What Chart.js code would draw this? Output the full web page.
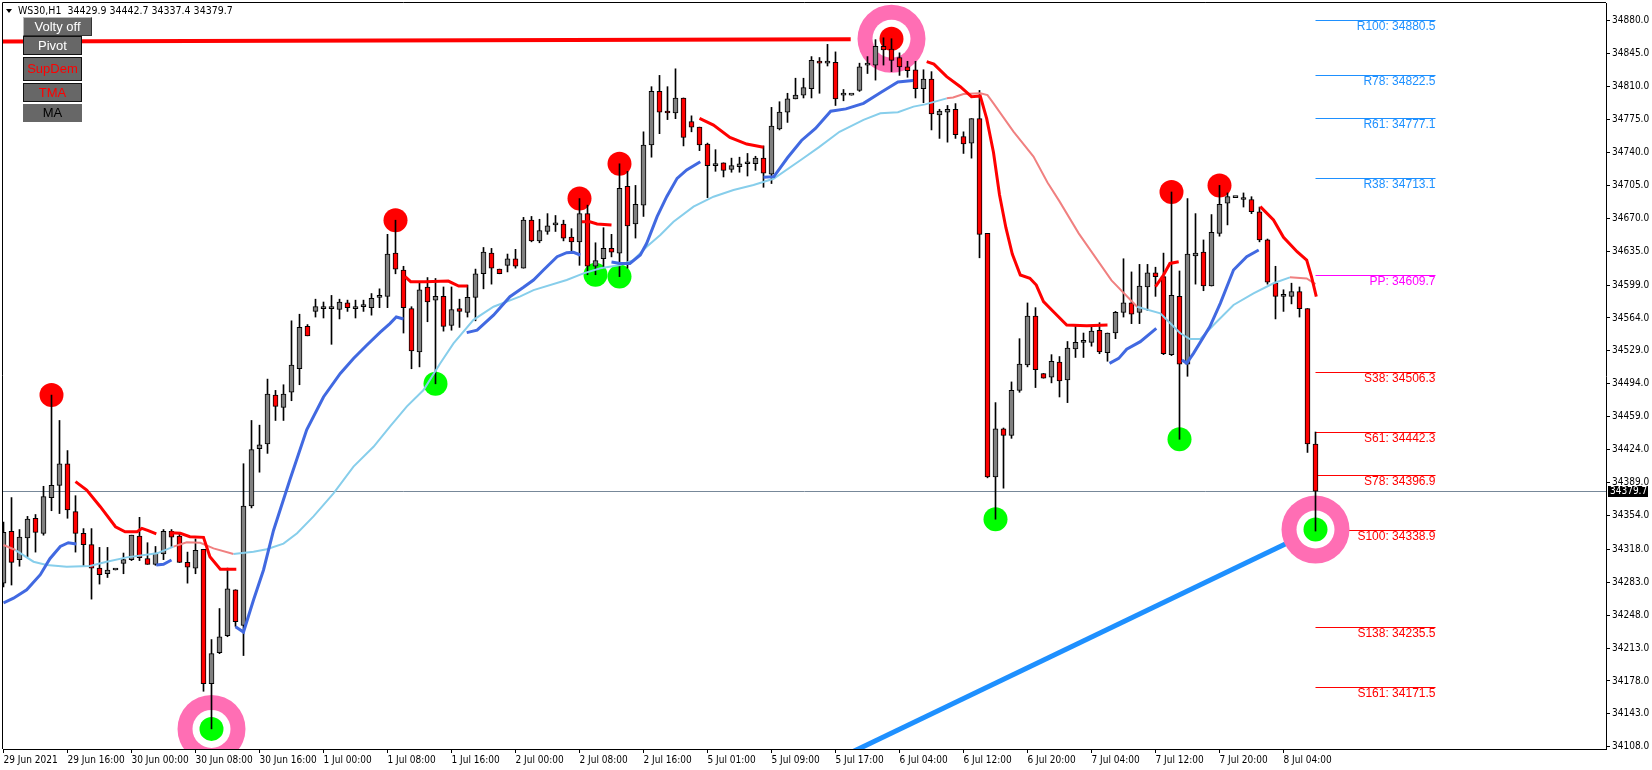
<!DOCTYPE html>
<html>
<head>
<meta charset="utf-8">
<script src="https://cdn.jsdelivr.net/npm/chart.js@4.4.0/dist/chart.umd.min.js"></script>
<style>
  body { margin: 0; background: #fff; }
  #wrap { position: relative; width: 1652px; height: 770px; overflow: hidden; }
  #c { position: absolute; left: 0; top: 0; }
  .title { position: absolute; left: 18px; top: 4px; font: 10.5px "Liberation Sans Narrow", "DejaVu Sans Condensed", sans-serif; color: #000; white-space: pre; }
  .tri { position: absolute; left: 6px; top: 9px; width: 0; height: 0; border-left: 3.5px solid transparent; border-right: 3.5px solid transparent; border-top: 4px solid #000; }
  .btn { position: absolute; left: 23px; width: 59px; box-sizing: border-box; background: #676767; border: 1px solid #111;
         font: 13px "Liberation Sans", Arial, sans-serif; text-align: center; color: #fff; }
</style>
</head>
<body>
<div id="wrap">
  <canvas id="c" width="1652" height="770"></canvas>
  <div class="tri"></div>
  <div class="title">WS30,H1  34429.9 34442.7 34337.4 34379.7</div>
  <div class="btn" style="top:17px;width:69px;height:19px;line-height:17px;border-color:#bbb #333 #333 #bbb;">Volty off</div>
  <div class="btn" style="top:36px;height:19px;line-height:17px;">Pivot</div>
  <div class="btn" style="top:57px;height:24px;line-height:22px;color:#f00;">SupDem</div>
  <div class="btn" style="top:83px;height:19px;line-height:17px;color:#f00;">TMA</div>
  <div class="btn" style="top:104px;height:18px;line-height:18px;border:none;color:#000;">MA</div>
</div>
<script>
// WS30 H1 candles, 29 Jun - 8 Jul 2021
var opens = [34282,34337,34307,34330,34351,34335,34373,34386,34409,34358,
  34335,34323,34298,34292,34296,34303,34307,34332,34308,34302,
  34313,34337,34332,34304,34298,34318,34175,34208,34226,34275,
  34237,34364,34425,34430,34482,34469,34485,34510,34555,34571,
  34574,34574,34573,34580,34574,34576,34575,34586,34587,34633,
  34615,34574,34528,34597,34583,34587,34556,34574,34570,34586,
  34611,34633,34616,34620,34627,34617,34668,34646,34656,34663,
  34664,34650,34645,34675,34619,34627,34638,34633,34704,34664,
  34684,34748,34805,34784,34782,34798,34773,34767,34749,34726,
  34729,34722,34725,34728,34728,34734,34717,34765,34783,34797,
  34801,34808,34837,34835,34836,34801,34801,34806,34833,34833,
  34853,34850,34841,34831,34828,34808,34818,34780,34783,34786,
  34757,34750,34776,34654,34395,34446,34439,34487,34514,34566,
  34505,34501,34517,34498,34531,34538,34538,34551,34527,34548,
  34570,34580,34570,34597,34612,34608,34525,34587,34515,34630,
  34634,34598,34654,34686,34692,34690,34690,34677,34647,34601,
  34587,34587,34592,34574,34429.9];
var highs = [34347,34373,34339,34353,34355,34385,34482,34455,34423,34375,
  34340,34340,34320,34320,34296,34314,34333,34352,34325,34321,
  34339,34339,34336,34315,34329,34318,34222,34255,34298,34275,
  34409,34455,34450,34499,34487,34493,34561,34568,34557,34584,
  34581,34588,34584,34583,34583,34583,34590,34595,34653,34668,
  34619,34576,34601,34607,34606,34597,34597,34584,34599,34616,
  34639,34638,34616,34632,34637,34671,34672,34669,34675,34673,
  34668,34659,34691,34684,34644,34660,34653,34728,34720,34705,
  34762,34810,34822,34810,34829,34798,34779,34767,34750,34743,
  34729,34734,34735,34739,34736,34747,34788,34794,34803,34819,
  34819,34842,34841,34855,34847,34807,34801,34835,34842,34860,
  34862,34861,34846,34837,34837,34828,34826,34786,34790,34792,
  34762,34776,34806,34654,34474,34447,34496,34542,34580,34575,
  34505,34525,34523,34539,34557,34548,34556,34559,34548,34571,
  34627,34613,34621,34621,34618,34633,34698,34614,34691,34675,
  34647,34674,34705,34697,34692,34697,34693,34682,34648,34619,
  34594,34601,34597,34574,34442.7];
var lows = [34278,34280,34300,34310,34315,34333,34359,34356,34351,34315,
  34300,34265,34281,34288,34296,34292,34306,34306,34302,34301,
  34307,34321,34304,34282,34292,34167,34127,34207,34225,34236,
  34205,34362,34400,34420,34455,34455,34476,34493,34545,34565,
  34564,34536,34563,34571,34564,34571,34567,34575,34575,34611,
  34548,34510,34512,34560,34494,34550,34551,34554,34565,34561,
  34595,34600,34611,34613,34617,34617,34645,34644,34653,34656,
  34646,34634,34620,34610,34610,34617,34629,34608,34617,34649,
  34672,34735,34760,34775,34776,34747,34762,34742,34692,34720,
  34714,34719,34719,34715,34721,34703,34707,34764,34772,34797,
  34798,34798,34803,34832,34790,34795,34801,34805,34824,34817,
  34833,34826,34822,34820,34798,34793,34764,34755,34751,34755,
  34739,34734,34628,34394,34350,34383,34436,34485,34512,34490,
  34500,34495,34480,34474,34522,34522,34534,34526,34518,34542,
  34565,34558,34558,34572,34587,34525,34524,34435,34502,34600,
  34593,34598,34651,34663,34692,34682,34675,34645,34600,34563,
  34571,34579,34565,34421,34337.4];
var closes = [34336,34304,34331,34350,34336,34374,34386,34409,34360,34335,
  34323,34298,34291,34296,34296,34307,34333,34309,34302,34314,
  34337,34331,34304,34299,34317,34175,34207,34225,34276,34241,
  34364,34424,34429,34483,34470,34483,34514,34554,34545,34576,
  34574,34574,34581,34575,34576,34576,34585,34586,34632,34616,
  34575,34529,34594,34581,34587,34555,34573,34571,34586,34611,
  34634,34617,34611,34627,34619,34668,34646,34657,34662,34663,
  34649,34645,34675,34619,34625,34638,34634,34702,34662,34685,
  34748,34805,34783,34782,34798,34756,34767,34748,34726,34728,
  34721,34726,34728,34728,34734,34718,34768,34783,34797,34801,
  34809,34838,34835,34835,34797,34801,34801,34831,34833,34853,
  34849,34838,34831,34827,34808,34818,34781,34784,34786,34759,
  34749,34776,34653,34395,34446,34439,34487,34515,34566,34509,
  34500,34518,34497,34532,34538,34538,34550,34528,34548,34570,
  34580,34568,34598,34612,34608,34526,34588,34515,34632,34633,
  34598,34655,34685,34693,34692,34690,34677,34647,34602,34587,
  34587,34592,34574,34430,34379.7];

// time axis: one label every 8 bars
var timeLabels = ['29 Jun 2021','29 Jun 16:00','30 Jun 00:00','30 Jun 08:00','30 Jun 16:00','1 Jul 00:00',
  '1 Jul 08:00','1 Jul 16:00','2 Jul 00:00','2 Jul 08:00','2 Jul 16:00','5 Jul 01:00','5 Jul 09:00',
  '5 Jul 17:00','6 Jul 04:00','6 Jul 12:00','6 Jul 20:00','7 Jul 04:00','7 Jul 12:00','7 Jul 20:00','8 Jul 04:00'];
var priceTicks = [34108,34143,34178,34213,34248,34283,34318,34354,34389,34424,34459,34494,
  34529,34564,34599,34635,34670,34705,34740,34775,34810,34845,34880];

// slow MA (sky blue, light coral where flagged)
var slowI = [0,1.5,3.75,5.4,7.9,10.8,12.9,15.4,19.2,21.25,22.9,24.6,26.25,28.75,31.25,32.9,35,36.7,38.75,41.25,
  43.75,46.25,48.3,50.4,52.5,54.6,56.25,58.75,61.25,64.6,66.25,70.4,72.5,74.6,77.1,78.75,80.4,82.1,83.75,86.25,
  88.75,91.25,93.75,96.25,99.75,101.9,104.5,107.5,109.6,111.8,113.75,115.2,117.9,118.7,120,122.1,123,123.75,126.25,128.75,
  130.5,132,134.4,138.5,141.7,144.6,147.1,148.3,149.6,151.25,153.75,156.25,158.75,160.8,162.9,164];
var slowP = [34322.6,34317.2,34304.8,34301.3,34299.5,34300.2,34304.8,34309.4,34313.7,34320.8,34325.4,34325,34319,34313,34315.5,34318,34324,34335,34353,34377.5,
  34406,34427,34448.4,34469.7,34487.4,34515.8,34537,34562,34576,34587,34593.7,34604.4,34611.5,34616.8,34620.3,34625.6,34639.8,34652.2,34666.4,34682.4,
  34693,34700.1,34705.4,34712,34732.6,34745.4,34762,34774.7,34781.7,34782.8,34788.8,34791.2,34797.6,34798.5,34802.2,34803,34801,34792.3,34762.2,34735.6,
  34708,34688,34654,34604,34576,34569,34547.7,34541.6,34541.6,34556.5,34577.8,34590.2,34600.9,34607.2,34606,34600];
var slowDn = [1,0,0,0,0,0,0,0,0,1, 1,1,1,0,0,0,0,0,0,0, 0,0,0,0,0,0,0,0,0,0, 0,0,0,0,0,0,0,0,0,0,
  0,0,0,0,0,0,0,0,0,0, 0,0,1,1,1,1,1,1,1,1, 1,1,1,1,0,0,0,0,0,0, 0,0,0,1,1,1];

// fast MA (royal blue), null = gap
var fastI = [0,1.25,2.9,4.6,5.8,7.1,8.1,9.1, 14, 19.1,20,21, 25,
  29,30,31.25,32.5,33.75,35.8,37.9,40,42.1,43.75,45.4,47.1,48.3,49.1,50, 54,
  57.9,59.2,61.25,63.3,65,66.25,67.5,69.2,70.4,71.25,72.1, 74,
  76,77.1,78.3,79.6,80.4,81.7,82.9,84.2,85.4,87.1, 91,
  95,96.3,98,99.75,101.5,103.4,105.3,107.5,109.7,111.8,113.7, 126,
  138.25,139.4,140.4,142.1,144.1, 145.5,
  147.3,147.9,148.75,150.8,152.1,153.75,155.4,156.9];
var fastP = [34261,34266,34275,34291,34308,34321,34325,34323.6, null, 34301.3,34302,34306.6, null,
  34235.7,34230,34264,34296,34338,34392,34445,34480,34505,34521,34535,34549,34558,34565,34563, null,
  34548.4,34551,34567,34586.6,34596.6,34604.4,34615,34629.2,34633.4,34633.8,34631, null,
  34623.5,34622,34622,34631,34643.4,34671.7,34693,34712.5,34721.4,34730.2, null,
  34713.6,34714.3,34734.4,34752.8,34765.6,34783.9,34786.4,34792.3,34804,34815,34816.5, null,
  34515.8,34521,34530.7,34538.8,34553, null,
  34519.3,34516,34526.4,34554.8,34579.6,34615,34629.2,34636.3];

// TMA (red), null = gap
var tmaI = [9,10.4,12.1,14,15.2,16.7,17.3,18.1,19.1, 20, 20.8,22.1,23.3,25,25.8,27.1,29.1, 40,
  50.2,50.9,52.7,55.6,56.9,58, 65, 72.3,73.3,74.2,76, 80, 87,88.75,90.8,92.9,95, 105,
  115.4,116.3,117.9,119.6,121,122.1,122.9,123.75,124.5,125.3,126.1,127.1,128.3,129.1,130,131.25,132.9,135.4,138, 141,
  144,145,145.8,146.9, 150, 157.1,158.75,160,161.7,162.9,163.5,164.1];
var tmaP = [34390,34381,34363.3,34342,34336.7,34336.7,34340.3,34337.8,34334.3, null,
  34335.7,34335,34331.4,34330.7,34310,34296.7,34296.7, null,
  34608,34602.6,34602.6,34603.3,34598,34598, null, 34666.4,34666.4,34664,34662.9, null,
  34776.3,34769.2,34756.1,34749,34745.5, null,
  34836.6,34834,34820.7,34810,34799.4,34800.1,34776,34740,34695,34660,34632,34609.7,34606.2,34599,34581.4,34570.7,34556.5,34555.8,34556.5, null,
  34597.3,34609.7,34622,34623.9, null, 34682.4,34668.2,34649.8,34634.5,34625.6,34608,34586.7];

// fractal dots and highlight rings
var redDotI = [6,49,72,77,111,146,152];
var redDotP = [34482,34668,34691,34728,34861,34698,34705];
var greenDotI = [26,54,74,77,124,147,164];
var greenDotP = [34127,34494,34610,34608,34350,34435,34339];
var ringI = [26,111,164];
var ringP = [34127,34861,34339];

// trend lines
var redLineI = [-0.5,105.9];
var redLineP = [34858,34860.5];
var blueLineI = [105,164];
var blueLineP = [34098,34339];

// pivot levels
var levelNames = ['R100','R78','R61','R38','PP','S38','S61','S78','S100','S138','S161'];
var levelValues = [34880.5,34822.5,34777.1,34713.1,34609.7,34506.3,34442.3,34396.9,34338.9,34235.5,34171.5];
var lastPrice = 34379.7;

var NARROW = '"Liberation Sans Narrow", "DejaVu Sans Condensed", sans-serif';

function pts(I, P) { return I.map(function(v, k){ return {x: v, y: P[k]}; }); }
function levelColor(n) { return n[0] === 'R' ? '#1e90ff' : (n === 'PP' ? '#ff00ff' : '#ff0000'); }

var wickData = opens.map(function(o, i){ return {x: i, y: [lows[i], highs[i]]}; });
var bodyData = opens.map(function(o, i){ return {x: i, y: [o, closes[i]]}; });
var bodyColors = opens.map(function(o, i){ return closes[i] >= o ? '#808080' : '#ff0000'; });

var overlay = {
  id: 'overlay',
  beforeDatasetsDraw: function(chart) {
    var ctx = chart.ctx, a = chart.chartArea, x = chart.scales.x, y = chart.scales.y;
    ctx.save();
    var py = Math.round(y.getPixelForValue(lastPrice)) + 0.5;
    ctx.strokeStyle = '#778899'; ctx.lineWidth = 1;
    ctx.beginPath(); ctx.moveTo(a.left, py); ctx.lineTo(a.right, py); ctx.stroke();

    var x0 = x.getPixelForValue(164), x1 = x.getPixelForValue(179);
    ctx.font = '12px "Liberation Sans", Arial, sans-serif';
    ctx.textAlign = 'right'; ctx.textBaseline = 'top';
    levelNames.forEach(function(n, k) {
      var ly = Math.round(y.getPixelForValue(levelValues[k])) + 0.5;
      ctx.strokeStyle = ctx.fillStyle = levelColor(n);
      ctx.beginPath(); ctx.moveTo(x0, ly); ctx.lineTo(x1, ly); ctx.stroke();
      ctx.fillText(n + ': ' + levelValues[k].toFixed(1), x1, ly + 0.5);
    });
    ctx.restore();
  },
  afterDraw: function(chart) {
    var ctx = chart.ctx, a = chart.chartArea, y = chart.scales.y;
    ctx.save();
    ctx.strokeStyle = '#000'; ctx.lineWidth = 1;
    ctx.beginPath();
    ctx.moveTo(a.left - 0.5, a.bottom); ctx.lineTo(a.left - 0.5, a.top - 0.5); ctx.lineTo(a.right, a.top - 0.5);
    ctx.stroke();
    var py = Math.round(y.getPixelForValue(lastPrice));
    ctx.fillStyle = '#000';
    ctx.fillRect(a.right + 2, py - 5, 40, 11);
    ctx.fillStyle = '#fff';
    ctx.font = '10px ' + NARROW;
    ctx.textAlign = 'left'; ctx.textBaseline = 'middle';
    ctx.fillText(lastPrice.toFixed(1), a.right + 4, py + 0.5);
    ctx.restore();
  }
};

new Chart(document.getElementById('c'), {
  type: 'bar',
  data: {
    datasets: [
      {type: 'line', data: pts(blueLineI, blueLineP), borderColor: '#1e90ff', borderWidth: 5, pointRadius: 0, order: 12, clip: 0},
      {type: 'line', data: pts(redLineI, redLineP), borderColor: '#ff0000', borderWidth: 4, pointRadius: 0, order: 12, clip: 0},
      {type: 'line', data: pts(ringI, ringP), showLine: false, pointRadius: 34, pointBorderWidth: 0, pointBackgroundColor: '#ff6eb4', order: 11, clip: 0},
      {type: 'line', data: pts(ringI, ringP), showLine: false, pointRadius: 19, pointBorderWidth: 0, pointBackgroundColor: '#ffffff', order: 10, clip: 0},
      {type: 'line', data: pts(redDotI, redDotP), showLine: false, pointRadius: 12, pointBorderWidth: 0, pointBackgroundColor: '#ff0000', order: 9, clip: 0},
      {type: 'line', data: pts(greenDotI, greenDotP), showLine: false, pointRadius: 12, pointBorderWidth: 0, pointBackgroundColor: '#00ff00', order: 9, clip: 0},
      {data: wickData, backgroundColor: '#000', borderWidth: 0, barThickness: 1, grouped: false, order: 8},
      {data: bodyData, backgroundColor: bodyColors, borderColor: '#000', borderWidth: 1, borderSkipped: false,
       barThickness: 5, minBarLength: 2, grouped: false, order: 7},
      {type: 'line', data: pts(slowI, slowP), borderWidth: 2, pointRadius: 0, tension: 0, order: 4, clip: 0,
       borderColor: '#87ceeb',
       segment: {borderColor: function(c){ return slowDn[c.p0DataIndex] ? '#f08080' : '#87ceeb'; }}},
      {type: 'line', data: pts(fastI, fastP), borderColor: '#4169e1', borderWidth: 3, pointRadius: 0, spanGaps: false, order: 3, clip: 0},
      {type: 'line', data: pts(tmaI, tmaP), borderColor: '#ff0000', borderWidth: 3, pointRadius: 0, spanGaps: false, order: 2, clip: 0}
    ]
  },
  options: {
    responsive: false,
    animation: false,
    events: [],
    layout: {autoPadding: false, padding: {left: 3, top: 3, right: 0, bottom: 0}},
    plugins: {legend: {display: false}, tooltip: {enabled: false}},
    scales: {
      x: {
        type: 'linear', offset: false, bounds: 'data',
        min: -0.0625, max: -0.0625 + 1603 / 8,
        afterFit: function(s){ s.height = 21; s.paddingLeft = 0; s.paddingRight = 0; },
        afterBuildTicks: function(s){ s.ticks = timeLabels.map(function(t, k){ return {value: k * 8}; }); },
        grid: {drawOnChartArea: false, offset: false, tickLength: 4, color: '#000'},
        border: {color: '#000'},
        ticks: {autoSkip: false, maxRotation: 0, minRotation: 0, align: 'start', padding: 1, color: '#000',
          font: {family: NARROW, size: 10},
          callback: function(v){ return timeLabels[Math.round(v / 8)]; }}
      },
      y: {
        type: 'linear', position: 'right', bounds: 'data',
        min: 34105.6, max: 34899.0,
        afterFit: function(s){ s.width = 46; s.paddingTop = 0; s.paddingBottom = 0; },
        afterBuildTicks: function(s){ s.ticks = priceTicks.map(function(v){ return {value: v}; }); },
        grid: {drawOnChartArea: false, tickLength: 4, color: '#000'},
        border: {color: '#000'},
        ticks: {autoSkip: false, padding: 2, color: '#000', font: {family: NARROW, size: 10},
          callback: function(v){ return v.toFixed(1); }}
      }
    }
  },
  plugins: [overlay]
});
</script>
</body>
</html>
